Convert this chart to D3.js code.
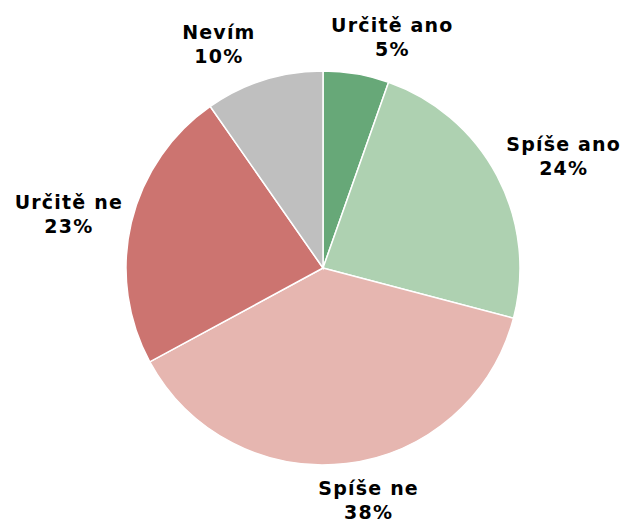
<!DOCTYPE html>
<html>
<head>
<meta charset="utf-8">
<script src="https://cdn.jsdelivr.net/npm/d3@7"></script>
<style>
  body { margin: 0; background: #fff; }
  text { font-family: "DejaVu Sans", Verdana, sans-serif; font-weight: bold; font-size: 19px; letter-spacing: 1.2px; fill: #000; }
</style>
</head>
<body>
<div id="chart"></div>
<script>
// -------------------- Data --------------------
const categories = ["Určitě ano", "Spíše ano", "Spíše ne", "Určitě ne", "Nevím"];
const values = [5.4, 23.7, 38.0, 23.2, 9.7];
const colors = ["#67a878", "#aed1b1", "#e6b6b0", "#cc7470", "#bfbfbf"];
// extra label shift (px) where the chart pushed labels apart
const labelNudge = [[24, -3], [7, -3], [15, 5], [0, 0], [-31, -4]];

const data = categories.map((c, i) => ({ name: c, value: values[i], color: colors[i], nudge: labelNudge[i] }));

// -------------------- SVG container --------------------
const width = 623, height = 522;
const cx = 323, cy = 268, radius = 197;

const svg = d3.select("#chart")
  .append("svg")
  .attr("width", width)
  .attr("height", height);

const g = svg.append("g").attr("transform", `translate(${cx},${cy})`);

const pie = d3.pie().value(d => d.value).sort(null);
const arc = d3.arc().innerRadius(0).outerRadius(radius);
const arcs = pie(data);

// -------------------- Slices --------------------
g.selectAll("path")
  .data(arcs)
  .join("path")
  .attr("d", arc)
  .attr("fill", d => d.data.color)
  .attr("stroke", "#fff")
  .attr("stroke-width", 1.5);

// -------------------- Labels --------------------
const total = d3.sum(values);
const labelOffset = 10;
const lineH = 24;

const label = g.selectAll("g.label")
  .data(arcs)
  .join("g")
  .attr("class", "label");

label.append("text")
  .attr("text-anchor", "middle")
  .attr("y", -lineH / 2 + 6)
  .text(d => d.data.name);

label.append("text")
  .attr("text-anchor", "middle")
  .attr("y", lineH / 2 + 6)
  .text(d => Math.round(d.data.value / total * 100) + "%");

label.attr("transform", function (d) {
  const a = (d.startAngle + d.endAngle) / 2;
  const box = this.getBBox();
  const px = (radius + labelOffset) * Math.sin(a);
  const py = -(radius + labelOffset) * Math.cos(a);
  const x = px + Math.sin(a) * box.width / 2 + d.data.nudge[0];
  const y = py - Math.cos(a) * box.height / 2 + d.data.nudge[1];
  return `translate(${x},${y})`;
});
</script>
</body>
</html>
